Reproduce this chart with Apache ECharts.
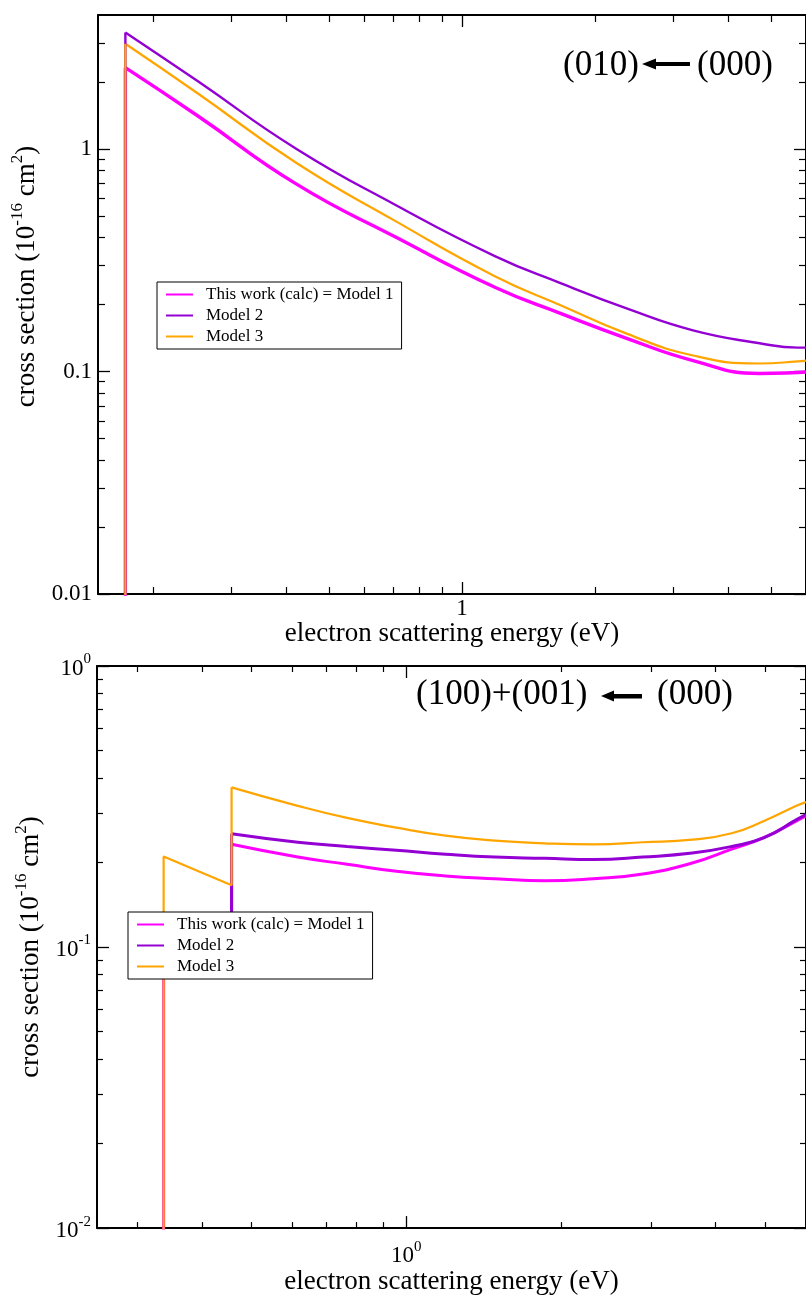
<!DOCTYPE html>
<html>
<head>
<meta charset="utf-8">
<script src="https://cdn.jsdelivr.net/npm/echarts@6/dist/echarts.min.js"></script>
<style>
  html, body { margin: 0; padding: 0; background: #fff; }
  #chart { width: 806px; height: 1296px; }
</style>
</head>
<body>
<div id="chart"></div>
<script>
// ---- series names and colours ----
const SERIES_NAMES = ['This work (calc) = Model 1', 'Model 2', 'Model 3'];
const COLORS = ['#ff00ff', '#9400d3', '#ffa500'];

// ---- upper panel: (010) <- (000) ----
const energyA = [0.173, 0.252, 0.422, 0.707, 1.186, 1.675, 2.356, 3.33, 4.71, 5.75, 6.0];
const model1A = [2.32, 1.41, 0.695, 0.402, 0.239, 0.182, 0.141, 0.112, 0.098, 0.0989, 0.0995];
const model2A = [3.34, 2.02, 1.00, 0.560, 0.330, 0.249, 0.192, 0.153, 0.134, 0.128, 0.128];
const model3A = [2.97, 1.78, 0.865, 0.474, 0.268, 0.198, 0.148, 0.118, 0.1086, 0.111, 0.112];
// below-threshold value (off scale) so the rise starts from the bottom
const FLOOR = 1e-4;

// ---- lower panel: (100)+(001) <- (000) ----
const energyB = [0.457, 0.615, 0.767, 0.957, 1.193, 1.488, 1.857, 2.316, 2.888, 3.603, 4.30, 4.97, 5.75, 6.0];
const model1B = [0.232, 0.209, 0.197, 0.186, 0.179, 0.175, 0.172, 0.175, 0.182, 0.199, 0.223, 0.245, 0.281, 0.293];
const model2B = [0.253, 0.236, 0.228, 0.221, 0.214, 0.209, 0.207, 0.205, 0.209, 0.216, 0.228, 0.245, 0.284, 0.296];
const model3B = [0.370, 0.318, 0.288, 0.266, 0.249, 0.239, 0.234, 0.232, 0.236, 0.241, 0.254, 0.281, 0.318, 0.328];
// threshold steps before the smooth part of each curve
const stepsB1 = [[0.337, FLOOR], [0.337, 0.11], [0.457, 0.11], [0.457, 0.232]];
const stepsB2 = [[0.457, 0.11], [0.457, 0.253]];
const stepsB3 = [[0.337, FLOOR], [0.337, 0.210], [0.457, 0.166], [0.457, 0.370]];

// ---- axis ranges and ticks ----
const xRangeA = [0.15, 6];
const yRangeA = [0.01, 4];
const xMajorA = [1];
const xLabelsA = ['1'];
const xMinorA = [0.2, 0.3, 0.4, 0.5, 0.6, 0.7, 0.8, 0.9, 2, 3, 4, 5];
const yMajorA = [0.01, 0.1, 1];
const yLabelsA = ['0.01', '0.1', '1'];
const yMinorA = [0.02, 0.03, 0.04, 0.05, 0.06, 0.07, 0.08, 0.09, 0.2, 0.3, 0.4, 0.5, 0.6, 0.7, 0.8, 0.9, 2, 3];

const xRangeB = [0.25, 6];
const yRangeB = [0.01, 1];
const xMajorB = [1];
const xLabelsB = ['{b|10}{s|0}'];
const xMinorB = [0.3, 0.4, 0.5, 0.6, 0.7, 0.8, 0.9, 2, 3, 4, 5];
const yMajorB = [0.01, 0.1, 1];
const yLabelsB = ['{b|10}{s|-2}', '{b|10}{s|-1}', '{b|10}{s|0}'];
const yMinorB = [0.02, 0.03, 0.04, 0.05, 0.06, 0.07, 0.08, 0.09, 0.2, 0.3, 0.4, 0.5, 0.6, 0.7, 0.8, 0.9];

const X_NAME = 'electron scattering energy (eV)';
const Y_NAME = '{b|cross section (10}{s|-16}{b| cm}{s|2}{b|)}';

const FONT = '"Liberation Serif", "Times New Roman", serif';

const tickRich = {
  b: { fontFamily: FONT, fontSize: 23, color: '#000', lineHeight: 28, verticalAlign: 'bottom' },
  s: { fontFamily: FONT, fontSize: 15, color: '#000', lineHeight: 10, verticalAlign: 'top' }
};
const nameRich = {
  b: { fontFamily: FONT, fontSize: 27, color: '#000', lineHeight: 32, verticalAlign: 'bottom' },
  s: { fontFamily: FONT, fontSize: 17, color: '#000', lineHeight: 12, verticalAlign: 'top' }
};

function labelFor(majors, labels) {
  return function (v) {
    for (let i = 0; i < majors.length; i++) {
      if (Math.abs(Math.log10(v / majors[i])) < 1e-6) return labels[i];
    }
    return '';
  };
}

// four axes per side pair: major (with line/labels) + minor ticks, mirrored on the opposite side
function makeAxes(dim, gridIndex, range, majors, minors, labels, minorLen, labelMargin, nameCfg) {
  const sides = dim === 'x' ? ['bottom', 'top'] : ['left', 'right'];
  const base = {
    type: 'log', logBase: 10, gridIndex: gridIndex,
    min: range[0], max: range[1],
    splitLine: { show: false }, axisPointer: { show: false }
  };
  const axes = [];
  sides.forEach(function (pos, s) {
    const major = Object.assign({}, base, {
      position: pos,
      axisLine: { show: true, onZero: false, lineStyle: { color: '#000', width: 2 } },
      axisTick: { show: true, inside: true, length: 12, customValues: majors, lineStyle: { color: '#000', width: 1.3 } },
      axisLabel: s === 0 ? {
        show: true, customValues: majors, formatter: labelFor(majors, labels),
        margin: labelMargin, rich: tickRich, fontFamily: FONT, fontSize: 23, color: '#000'
      } : { show: false }
    });
    if (s === 0) Object.assign(major, nameCfg);
    axes.push(major);
    axes.push(Object.assign({}, base, {
      position: pos,
      axisLine: { show: false },
      axisTick: { show: true, inside: true, length: minorLen, customValues: minors, lineStyle: { color: '#000', width: 1.2 } },
      axisLabel: { show: false }
    }));
  });
  return axes;
}

const xNameCfg = function (gap) {
  return {
    name: X_NAME, nameLocation: 'middle', nameGap: gap,
    nameTextStyle: { fontFamily: FONT, fontSize: 27, color: '#000' }
  };
};
const yNameCfg = function (gap, shift) {
  return {
    name: Y_NAME, nameLocation: 'middle', nameGap: gap, nameRotate: 90,
    nameTextStyle: { rich: nameRich, padding: [0, 0, 0, shift] }
  };
};

const xAxes = []
  .concat(makeAxes('x', 0, xRangeA, xMajorA, xMinorA, xLabelsA, 7, 3, xNameCfg(20)))
  .concat(makeAxes('x', 1, xRangeB, xMajorB, xMinorB, xLabelsB, 6, 11, xNameCfg(37)));
const yAxes = []
  .concat(makeAxes('y', 0, yRangeA, yMajorA, yMinorA, yLabelsA, 7, 6, yNameCfg(36, 56)))
  .concat(makeAxes('y', 1, yRangeB, yMajorB, yMinorB, yLabelsB, 6, 6, yNameCfg(36, 0)));

function pairs(xs, ys) { return xs.map(function (x, k) { return [x, ys[k]]; }); }

function line(name, idx, axisIdx, data, width, smooth) {
  return {
    type: 'line', name: name, xAxisIndex: axisIdx, yAxisIndex: axisIdx,
    data: data, symbol: 'none', smooth: smooth ? 0.5 : false,
    lineStyle: { color: COLORS[idx], width: width },
    itemStyle: { color: COLORS[idx] },
    emphasis: { disabled: true }, silent: true, animation: false
  };
}

const valsA = [model1A, model2A, model3A];
const valsB = [model1B, model2B, model3B];
const stepsB = [stepsB1, stepsB2, stepsB3];
const widthsA = [3.4, 2.4, 2.2];
const widthsB = [3, 3, 2.2];

const series = [];
// smooth curves
valsA.forEach(function (v, i) { series.push(line(SERIES_NAMES[i], i, 0, pairs(energyA, v), widthsA[i], true)); });
valsB.forEach(function (v, i) { series.push(line(SERIES_NAMES[i], i, 4, pairs(energyB, v), widthsB[i], true)); });
// threshold rises
valsA.forEach(function (v, i) { series.push(line(SERIES_NAMES[i], i, 0, [[energyA[0], FLOOR], [energyA[0], v[0]]], widthsA[i], false)); });
stepsB.forEach(function (st, i) { series.push(line(SERIES_NAMES[i], i, 4, st, widthsB[i], false)); });

const legendBase = {
  data: SERIES_NAMES, orient: 'vertical', selectedMode: false,
  backgroundColor: '#fff', borderColor: '#000', borderWidth: 1, borderRadius: 0,
  padding: [4, 8, 4, 8], itemWidth: 27, itemHeight: 14, itemGap: 4,
  itemStyle: { opacity: 0 },
  textStyle: { fontFamily: FONT, fontSize: 17, color: '#000', lineHeight: 17, padding: [0, 0, 0, 8] }
};

const chart = echarts.init(document.getElementById('chart'), null, { renderer: 'canvas' });
chart.setOption({
  animation: false,
  backgroundColor: '#fff',
  grid: [
    { left: 98, top: 15, right: -10, height: 579 },
    { left: 97, top: 666, right: -10, height: 570 }
  ],
  xAxis: xAxes,
  yAxis: yAxes,
  legend: [
    Object.assign({}, legendBase, { left: 157, top: 282 }),
    Object.assign({}, legendBase, { left: 128, top: 912 })
  ],
  series: series,
  graphic: [
    { type: 'text', x: 563, y: 66, style: { text: '(010)', font: '35px "Liberation Serif"', fill: '#000', align: 'left', verticalAlign: 'middle' } },
    { type: 'polygon', shape: { points: [[642, 64], [656, 58.5], [656, 69.5]] }, style: { fill: '#000' } },
    { type: 'rect', shape: { x: 654, y: 62, width: 36, height: 4 }, style: { fill: '#000' } },
    { type: 'text', x: 697, y: 66, style: { text: '(000)', font: '35px "Liberation Serif"', fill: '#000', align: 'left', verticalAlign: 'middle' } },

    { type: 'text', x: 416, y: 695, style: { text: '(100)+(001)', font: '35px "Liberation Serif"', fill: '#000', align: 'left', verticalAlign: 'middle' } },
    { type: 'polygon', shape: { points: [[601, 696], [614, 690.5], [614, 701.5]] }, style: { fill: '#000' } },
    { type: 'rect', shape: { x: 612, y: 694, width: 30, height: 4.5 }, style: { fill: '#000' } },
    { type: 'text', x: 657, y: 695, style: { text: '(000)', font: '35px "Liberation Serif"', fill: '#000', align: 'left', verticalAlign: 'middle' } }
  ]
});
</script>
</body>
</html>
